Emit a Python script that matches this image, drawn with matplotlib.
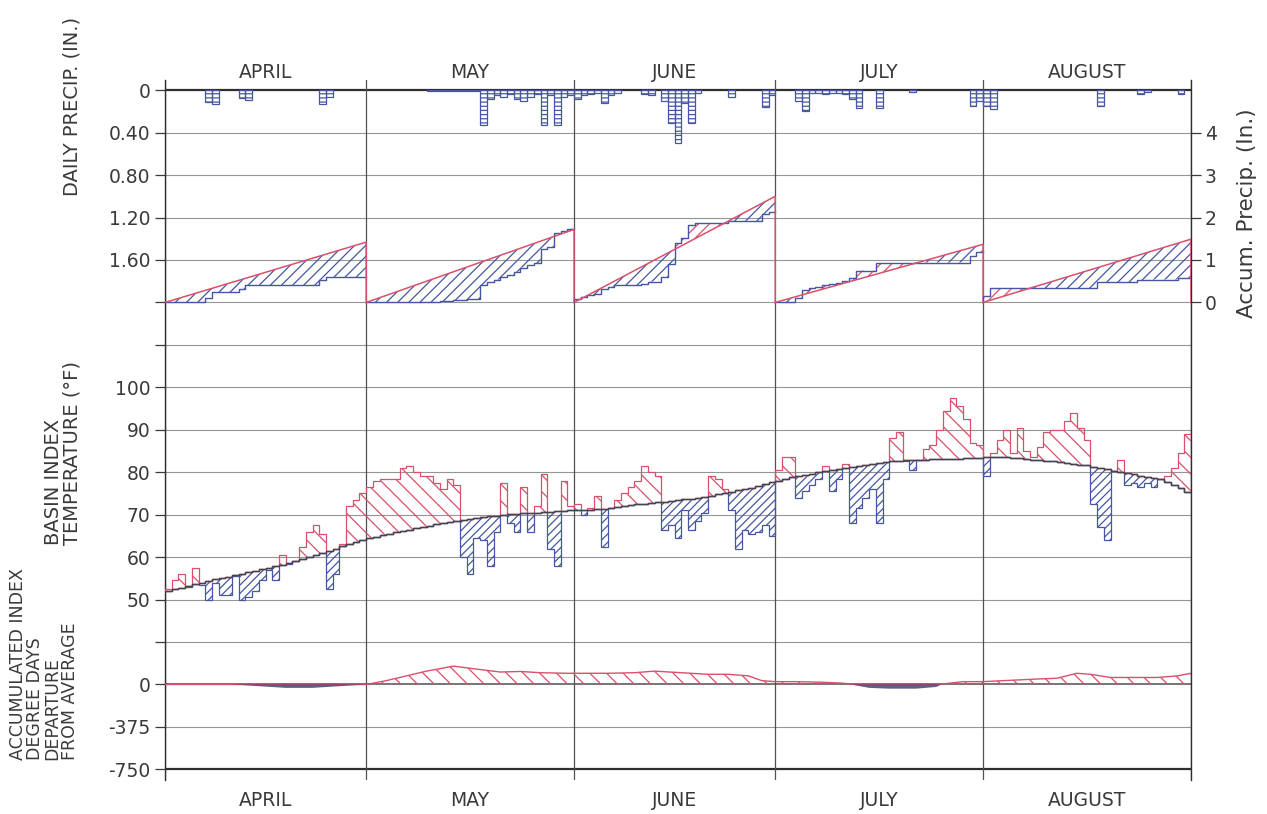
import numpy as np
import matplotlib
matplotlib.use('Agg')
import matplotlib.pyplot as plt
from matplotlib.transforms import blended_transform_factory

plt.rcParams['font.family'] = ['DejaVu Sans']
plt.rcParams['hatch.linewidth'] = 0.9

months = ['APRIL', 'MAY', 'JUNE', 'JULY', 'AUGUST']
month_days = [30, 31, 30, 31, 31]

# daily precipitation, inches
precip_apr = [0, 0, 0, 0, 0, 0, 0.11, 0.13, 0, 0, 0, 0.07, 0.09, 0, 0,
              0, 0, 0, 0, 0, 0, 0, 0, 0.13, 0.06, 0, 0, 0, 0, 0]
precip_may = [0, 0, 0, 0, 0, 0, 0, 0, 0, 0.01, 0.01, 0.01, 0.01, 0.01, 0.01,
              0.01, 0.01, 0.33, 0.08, 0.05, 0.06, 0.04, 0.08, 0.10, 0.06, 0.04,
              0.33, 0.05, 0.33, 0.06, 0.05]
precip_jun = [0.08, 0.05, 0.04, 0.03, 0.12, 0.05, 0.03, 0, 0, 0,
              0.04, 0.05, 0, 0.10, 0.31, 0.50, 0.12, 0.31, 0.03, 0,
              0, 0, 0, 0.06, 0, 0, 0, 0, 0.16, 0.05]
precip_jul = [0, 0, 0, 0.10, 0.20, 0.03, 0.03, 0.04, 0.03, 0.03,
              0.04, 0.08, 0.17, 0, 0, 0.17, 0, 0, 0, 0,
              0.02, 0, 0, 0, 0, 0, 0, 0, 0, 0.15, 0.10]
precip_aug = [0.15, 0.18, 0, 0, 0, 0, 0, 0, 0, 0,
              0, 0, 0, 0, 0, 0, 0, 0.15, 0, 0,
              0, 0, 0, 0.04, 0.02, 0, 0, 0, 0, 0.04, 0]
# normal monthly precipitation totals, inches
normal_month_precip = [1.42, 1.72, 2.50, 1.37, 1.49]

# basin index temperature, deg F
temp_apr = [52.5, 54.5, 56.0, 53.0, 57.5, 53.5, 50.0, 54.0, 51.0, 51.0,
            55.5, 50.0, 50.5, 52.0, 54.5, 57.0, 54.5, 60.5, 58.5, 59.2,
            62.5, 66.0, 67.5, 65.5, 52.5, 56.0, 63.0, 72.0, 73.5, 75.0]
temp_may = [76.5, 78.0, 78.5, 78.5, 78.5, 81.0, 81.5, 80.0, 79.0, 79.0,
            77.5, 76.0, 78.5, 77.0, 60.0, 56.0, 64.5, 64.0, 58.0, 66.0,
            77.5, 68.0, 66.0, 76.5, 66.0, 72.0, 79.5, 62.0, 58.0, 78.0, 72.0]
temp_jun = [72.5, 70.0, 71.5, 74.5, 62.5, 71.5, 73.5, 75.0, 76.5, 78.0,
            81.5, 80.0, 79.0, 66.5, 67.5, 64.5, 71.0, 66.5, 68.5, 70.5,
            79.0, 78.5, 76.0, 71.0, 62.0, 66.5, 65.5, 66.0, 67.5, 65.0]
temp_jul = [80.5, 83.5, 83.5, 74.0, 75.5, 77.0, 78.5, 81.5, 75.5, 78.5,
            82.0, 68.0, 71.5, 74.0, 76.0, 68.0, 78.5, 88.0, 89.5, 82.7,
            80.5, 83.0, 85.5, 86.5, 90.0, 94.5, 97.5, 95.5, 92.5, 87.0, 86.5]
temp_aug = [79.0, 84.5, 87.5, 90.0, 84.5, 90.5, 85.0, 83.5, 86.0, 89.5,
            90.0, 90.0, 92.0, 94.0, 90.5, 87.5, 72.5, 67.0, 64.0, 80.2,
            83.0, 77.0, 77.5, 76.5, 77.5, 76.5, 78.5, 79.0, 81.0, 84.5, 89.0]

# normal daily temperature, deg F
normal_apr = [52.0, 52.4, 52.8, 53.2, 53.6, 54.0, 54.4, 54.8, 55.1, 55.4,
              55.8, 56.1, 56.4, 56.8, 57.1, 57.4, 57.8, 58.2, 58.6, 59.0,
              59.5, 60.0, 60.5, 61.0, 61.5, 62.0, 62.6, 63.1, 63.6, 64.0]
normal_may = [64.4, 64.8, 65.2, 65.5, 65.9, 66.2, 66.5, 66.8, 67.1, 67.4,
              67.7, 68.0, 68.2, 68.5, 68.8, 69.0, 69.2, 69.4, 69.6, 69.8,
              70.0, 70.1, 70.2, 70.3, 70.4, 70.5, 70.6, 70.7, 70.8, 70.9, 71.0]
normal_jun = [71.0, 71.1, 71.2, 71.3, 71.4, 71.6, 71.8, 72.0, 72.2, 72.4,
              72.6, 72.8, 72.9, 73.0, 73.2, 73.4, 73.6, 73.8, 74.0, 74.2,
              74.5, 74.8, 75.1, 75.4, 75.7, 76.0, 76.4, 76.8, 77.2, 77.6]
normal_jul = [78.0, 78.4, 78.8, 79.1, 79.4, 79.7, 80.0, 80.3, 80.6, 80.8,
              81.0, 81.2, 81.5, 81.8, 82.0, 82.2, 82.4, 82.6, 82.7, 82.8,
              82.9, 83.0, 83.0, 83.1, 83.1, 83.2, 83.2, 83.2, 83.3, 83.3, 83.3]
normal_aug = [83.7, 83.7, 83.6, 83.5, 83.4, 83.3, 83.2, 83.0, 82.9, 82.7,
              82.6, 82.4, 82.2, 82.0, 81.8, 81.6, 81.3, 81.0, 80.7, 80.4,
              80.1, 79.8, 79.5, 79.2, 78.9, 78.6, 78.3, 77.8, 77.1, 76.2, 75.3]

# accumulated index degree days, departure from average
dd_day = [0, 10, 14, 18, 22, 26, 30, 33, 36, 39, 43, 47, 50, 53, 56, 60,
          66, 70, 73, 77, 81, 84, 87, 89, 91, 94, 98, 101, 103, 105, 108,
          112, 115, 116, 119, 122, 125, 130, 133, 136, 138, 141, 148, 151, 153]
dd_value = [0, 0, -15, -30, -30, -15, 0, 34, 76, 118, 162, 132, 110, 115, 104, 99,
            99, 104, 118, 104, 90, 90, 76, 34, 25, 25, 20, 12, -8, -30, -37,
            -37, -22, 5, 25, 25, 34, 48, 55, 99, 90, 62, 62, 76, 99]

left_ticklabels = ['0', '0.40', '0.80', '1.20', '1.60', '', '', '100', '90',
                   '80', '70', '60', '50', '', '0', '-375', '-750']

RED = '#d9506c'
BLUE = '#4656a2'
GRID = '#959595'
INK = '#3a3a3a'

precip = np.array(precip_apr + precip_may + precip_jun + precip_jul + precip_aug)
temp = np.array(temp_apr + temp_may + temp_jun + temp_jul + temp_aug)
normal = np.array(normal_apr + normal_may + normal_jun + normal_jul + normal_aug)
bounds = np.cumsum([0] + month_days)
ndays = bounds[-1]


# every panel lives on one shared axis, one unit per grid line (0 at top)
def precip_y(p):
    return np.asarray(p) / 0.40


def accum_y(a):
    return 5 - np.asarray(a)


def temp_y(t):
    return 7 + (100 - np.asarray(t)) / 10.0


def dd_y(d):
    return 14 - np.asarray(d) / 375.0


fig = plt.figure(figsize=(12.67, 8.14), dpi=100)
ax = fig.add_axes([165 / 1267, 1 - 780 / 814, 1026 / 1267, 700 / 814])
ax.set_xlim(0, ndays)
ax.set_ylim(16.25, -0.24)

for g in range(17):
    lw, c = 0.8, GRID
    if g in (0, 16):
        lw, c = 1.6, '#2e2e2e'
    elif g == 14:
        lw, c = 1.1, '#505050'
    ax.axhline(g, color=c, lw=lw, zorder=1)
for b in bounds:
    ax.axvline(b, color='#505050', lw=0.9, zorder=1)

# daily precipitation bars hanging from the zero line
wet = precip > 0
days = np.arange(ndays)
ax.bar(days[wet], precip_y(precip[wet]), width=1, align='edge', bottom=0,
       facecolor='none', edgecolor=BLUE, hatch='----', lw=0.9, zorder=3)

# accumulated precipitation vs. normal, restarted each month
for m, n in enumerate(month_days):
    s = bounds[m]
    total = normal_month_precip[m]
    cum = np.cumsum(precip[s:s + n])
    xs = np.r_[s, np.repeat(np.arange(s, s + n + 1), 2)[1:-1]]
    ys = np.r_[0, np.repeat(cum, 2)]
    norm = total * (xs - s) / n
    ax.fill_between(xs, accum_y(norm), accum_y(ys), where=ys <= norm,
                    interpolate=True, facecolor='none', edgecolor=BLUE,
                    hatch='///', lw=0, zorder=2)
    ax.fill_between(xs, accum_y(norm), accum_y(ys), where=ys >= norm,
                    interpolate=True, facecolor='none', edgecolor=RED,
                    hatch='///', lw=0, zorder=2)
    ax.plot(xs, accum_y(ys), color=BLUE, lw=1.0, zorder=3)
    ax.plot([s, s + n, s + n], accum_y([0, total, 0]), color=RED, lw=1.1, zorder=3)

# daily temperature departures drawn from the normal curve
edges = np.arange(ndays + 1)
ax.stairs(temp_y(np.maximum(temp, normal)), edges, baseline=temp_y(normal),
          fill=False, color=RED, hatch='\\\\', lw=0.9, zorder=3)
ax.stairs(temp_y(np.minimum(temp, normal)), edges, baseline=temp_y(normal),
          fill=False, color=BLUE, hatch='////', lw=0.9, zorder=3)
ax.stairs(temp_y(normal), edges, baseline=None, color='#454545', lw=0.9, zorder=4)

# degree-day departure
dx = np.array(dd_day)
dv = np.array(dd_value)
ax.fill_between(dx, dd_y(0), dd_y(dv), where=dv >= 0, interpolate=True,
                facecolor='none', edgecolor=RED, hatch='\\\\', lw=0, zorder=2)
ax.plot(dx, dd_y(np.maximum(dv, 0)), color=RED, lw=1.0, zorder=3)
ax.fill_between(dx, dd_y(0), dd_y(dv), where=dv <= 0, interpolate=True,
                color='#343a66', alpha=0.8, lw=0, zorder=3)

# left axis
ax.set_xticks([])
ax.set_yticks(range(17))
ax.set_yticklabels(left_ticklabels)
ax.tick_params(axis='y', direction='out', length=7, width=0.9, colors=INK,
               labelsize=13.5, pad=3.5)
for side in ('top', 'bottom'):
    ax.spines[side].set_visible(False)
for side in ('left', 'right'):
    ax.spines[side].set_color('#2e2e2e')
    ax.spines[side].set_linewidth(1.0)

# right axis for accumulated precipitation
ax2 = ax.twinx()
ax2.set_ylim(ax.get_ylim())
ax2.set_yticks([1, 2, 3, 4, 5])
ax2.set_yticklabels(['4', '3', '2', '1', '0'])
ax2.tick_params(axis='y', direction='out', length=7, width=0.9, colors=INK,
                labelsize=13.5, pad=3)
for sp in ax2.spines.values():
    sp.set_visible(False)

# month names above and below
for m, name in enumerate(months):
    cx = bounds[m] + month_days[m] / 2
    ax.text(cx, -0.42, name, ha='center', va='center', fontsize=13.5, color=INK)
    ax.text(cx, 16.73, name, ha='center', va='center', fontsize=13.5, color=INK)

trans = blended_transform_factory(ax.transAxes, ax.transData)
ax.text(1.0546, 2.9, 'Accum. Precip. (In.)', transform=trans, rotation=90,
        ha='center', va='center', fontsize=15.5, color=INK)

fig.text(72 / 1267, 1 - 106 / 814, 'DAILY PRECIP. (IN.)', rotation=90,
         ha='center', va='center', fontsize=14, color=INK)
fig.text(63 / 1267, 1 - 545 / 814, 'BASIN INDEX\nTEMPERATURE (°F)', rotation=90,
         ha='center', va='bottom', multialignment='left', linespacing=0.95,
         fontsize=14, color=INK)
fig.text(44 / 1267, 1 - 760 / 814,
         'ACCUMULATED INDEX\nDEGREE DAYS\nDEPARTURE\nFROM AVERAGE', rotation=90,
         ha='center', va='bottom', multialignment='left', linespacing=0.95,
         fontsize=12.5, color=INK)

fig.savefig('out.png', dpi=100, facecolor='white')
